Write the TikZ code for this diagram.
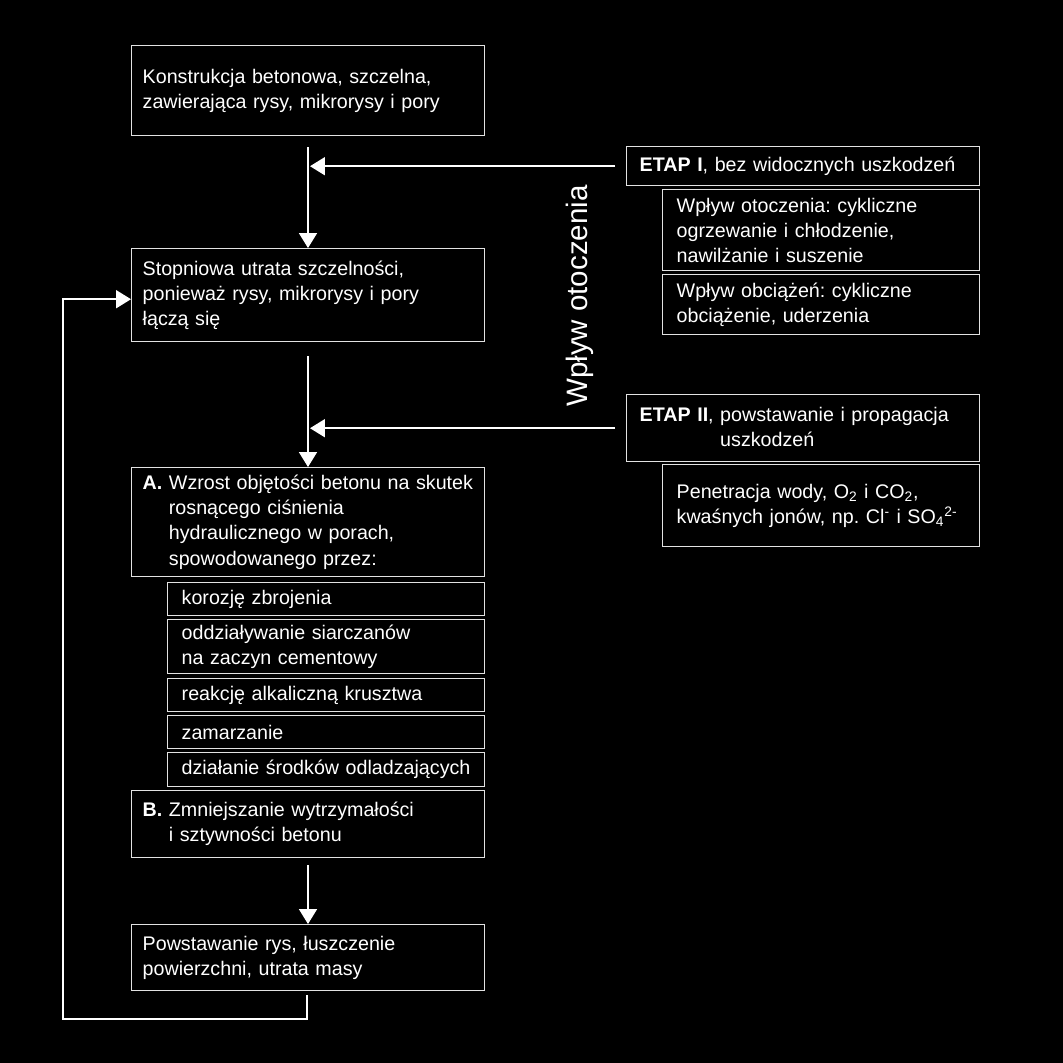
\documentclass[tikz,border=0pt]{standalone}
\usepackage{fontspec}
\setmainfont{Liberation Sans}
\usepackage{xcolor}
\usepackage{tikz}
\usetikzlibrary{calc,arrows.meta}
\definecolor{paper}{HTML}{000000}
\definecolor{ink}{HTML}{FFFFFF}
\definecolor{edge}{HTML}{E2E2E2}
\newcommand{\bodyfont}{\fontsize{11.2}{14.3}\selectfont\frenchspacing}
\tikzset{
  box/.style={draw=edge, line width=0.8pt, fill=paper, text=ink, font=\bodyfont,
    align=left, anchor=north west, inner ysep=0pt, inner xsep=0.22cm,
    minimum width=7.06cm, text width=6.62cm},
  etap/.style={box, inner xsep=0.26cm, text width=6.54cm},
  sub/.style={box, minimum width=6.34cm, inner xsep=0.28cm, text width=5.78cm},
  tall/.style={minimum height=#1*0.02cm},
  conn/.style={draw=ink, line width=1.1pt, -{Triangle[length=0.3cm,width=0.36cm]}},
  side/.style={text=ink, font=\fontsize{16.8}{20}\selectfont, rotate=90, inner sep=0pt},
}

\begin{document}
\begin{tikzpicture}[x=0.02cm, y=-0.02cm]
  \fill[paper] (0,0) rectangle (1063,1063);
  \useasboundingbox (0,0) rectangle (1063,1063);
  % main column
  \node[box, tall=90] (konstr) at (131,45) {Konstrukcja betonowa, szczelna,\\zawierająca rysy, mikrorysy i pory};
  \node[box, tall=93] (utrata) at (131,248) {Stopniowa utrata szczelności,\\ponieważ rysy, mikrorysy i pory\\łączą się};
  \node[box, tall=109] (wzrost) at (131,467) {\textbf{A.} Wzrost objętości betonu na skutek\\\phantom{\textbf{A.} }rosnącego ciśnienia\\\phantom{\textbf{A.} }hydraulicznego w porach,\\\phantom{\textbf{A.} }spowodowanego przez:};
  \node[sub, tall=33] (korozja) at (167,582) {korozję zbrojenia};
  \node[sub, tall=54] (siarczan) at (167,619) {oddziaływanie siarczanów\\na zaczyn cementowy};
  \node[sub, tall=33] (reakcja) at (167,678) {reakcję alkaliczną krusztwa};
  \node[sub, tall=33] (mroz) at (167,715) {zamarzanie};
  \node[sub, tall=34] (odlad) at (167,752) {działanie środków odladzających};
  \node[box, tall=67] (spadek) at (131,790) {\textbf{B.} Zmniejszanie wytrzymałości\\\phantom{\textbf{B.} }i sztywności betonu};
  \node[box, tall=66] (rysy) at (131,924) {Powstawanie rys, łuszczenie\\powierzchni, utrata masy};
  % right column
  \node[etap, tall=39] (etap1) at (626,146) {\textbf{ETAP I}, bez widocznych uszkodzeń};
  \node[sub, tall=81] (otocz) at (662,189) {Wpływ otoczenia: cykliczne\\ogrzewanie i chłodzenie,\\nawilżanie i suszenie};
  \node[sub, tall=60] (obciaz) at (662,274) {Wpływ obciążeń: cykliczne\\obciążenie, uderzenia};
  \node[etap, tall=67] (etap2) at (626,394) {\textbf{ETAP II}, powstawanie i propagacja\\\phantom{\textbf{ETAP II}, }uszkodzeń};
  \node[sub, tall=82] (penetr) at (662,464) {Penetracja wody, O\textsubscript{2} i CO\textsubscript{2},\\kwaśnych jonów, np. Cl\textsuperscript{-} i SO\textsubscript{4}\textsuperscript{2-}};
  \node[side] (wplyw) at (580,296) {Wpływ otoczenia};
  % connectors
  \coordinate (t1) at (308,147);
  \coordinate (t2) at (308,356);
  \coordinate (t3) at (308,865);
  \coordinate (r0) at (307,995);
  \coordinate (r1) at (63,1019);
  \draw[conn] (t1) -- (t1 |- utrata.north);
  \draw[conn] ($(etap1.west)+(-11,0)$) -- ($(t1 |- etap1.west)+(2,0)$);
  \draw[conn] (t2) -- (t2 |- wzrost.north);
  \draw[conn] ($(etap2.west)+(-11,0)$) -- ($(t2 |- etap2.west)+(2,0)$);
  \draw[conn] (t3) -- (t3 |- rysy.north);
  \draw[conn] (r0) |- (r1) |- ($(utrata.west)+(0,4)$);
\end{tikzpicture}
\end{document}
